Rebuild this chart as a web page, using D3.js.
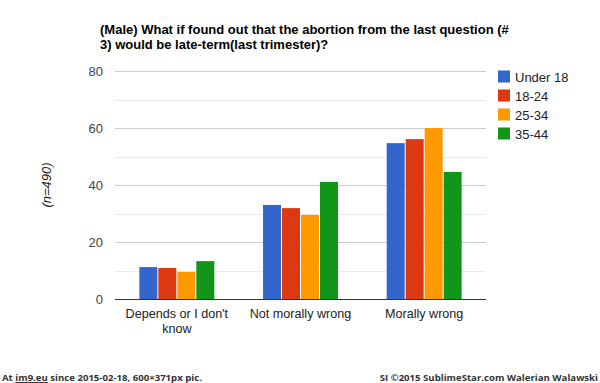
<!DOCTYPE html>
<html><head><meta charset="utf-8">
<script src="https://cdn.jsdelivr.net/npm/d3@7"></script>
<style>
html,body{margin:0;padding:0;background:#fff;}
svg{display:block;}
</style></head>
<body>
<script>
const categories = ["Depends or I don't know", "Not morally wrong", "Morally wrong"];
const categoryLines = [["Depends or I don't", "know"], ["Not morally wrong"], ["Morally wrong"]];
const seriesNames = ["Under 18", "18-24", "25-34", "35-44"];
const under18 = [11.3, 33.1, 54.8];
const age18to24 = [11.0, 32.0, 56.2];
const age25to34 = [9.6, 29.6, 60.1];
const age35to44 = [13.4, 41.2, 44.7];
const colors = ["#3366cc", "#dc3912", "#ff9900", "#109618"];
const majorTicks = [0, 20, 40, 60, 80];
const minorTicks = [10, 30, 50, 70];
const titleLines = ["(Male) What if found out that the abortion from the last question (#", "3) would be late-term(last trimester)?"];
const yTitle = "(n=490)";

const seriesValues = [under18, age18to24, age25to34, age35to44];

const W = 600, H = 383;
const svg = d3.select("body").append("svg").attr("width", W).attr("height", H);
const font = "Arial, 'Liberation Sans', sans-serif";

const plotL = 115, plotR = 486, plotT = 71.3, plotB = 299.3;
const y = d3.scaleLinear().domain([0, 80]).range([plotB, plotT]);
const x0 = d3.scaleBand().domain(categories).range([plotL, plotR]).paddingInner(0.394).paddingOuter(0.197);
const x1 = d3.scaleBand().domain(seriesNames).range([0, x0.bandwidth()]).paddingInner(0.053);

// gridlines
svg.append("g").selectAll("line").data(minorTicks).join("line")
  .attr("x1", plotL).attr("x2", plotR)
  .attr("y1", d => Math.round(y(d)) + 0.5).attr("y2", d => Math.round(y(d)) + 0.5)
  .attr("stroke", "#ebebeb").attr("stroke-width", 1);
svg.append("g").selectAll("line").data(majorTicks.filter(d => d > 0)).join("line")
  .attr("x1", plotL).attr("x2", plotR)
  .attr("y1", d => Math.round(y(d)) + 0.5).attr("y2", d => Math.round(y(d)) + 0.5)
  .attr("stroke", "#cccccc").attr("stroke-width", 1);

// y tick labels
svg.append("g").selectAll("text").data(majorTicks).join("text")
  .attr("x", 103).attr("y", d => y(d) + 4.5)
  .attr("text-anchor", "end").attr("font-family", font).attr("font-size", 13)
  .attr("fill", "#444").text(d => d);

// bars
const rows = categories.map((c, i) => ({ cat: c, vals: seriesNames.map((s, j) => ({ s, j, v: seriesValues[j][i] })) }));
const groups = svg.append("g").selectAll("g").data(rows).join("g")
  .attr("transform", d => `translate(${x0(d.cat)},0)`);
groups.selectAll("rect").data(d => d.vals).join("rect")
  .attr("x", d => x1(d.s)).attr("width", x1.bandwidth())
  .attr("y", d => y(d.v)).attr("height", d => y(0) - y(d.v))
  .attr("fill", d => colors[d.j]);

// baseline
svg.append("line").attr("x1", plotL).attr("x2", plotR)
  .attr("y1", Math.round(y(0)) + 0.5).attr("y2", Math.round(y(0)) + 0.5)
  .attr("stroke", "#333").attr("stroke-width", 1);

// x labels
categories.forEach((c, i) => {
  const t = svg.append("text").attr("text-anchor", "middle").attr("font-family", font)
    .attr("font-size", 12.6).attr("fill", "#222");
  categoryLines[i].forEach((ln, k) => {
    t.append("tspan").attr("x", x0(c) + x0.bandwidth() / 2).attr("y", 318 + k * 15).text(ln);
  });
});

// y title
svg.append("text").attr("transform", `translate(51,185) rotate(-90)`)
  .attr("text-anchor", "middle").attr("font-family", font).attr("font-size", 13)
  .attr("font-style", "italic").attr("fill", "#222").text(yTitle);

// title
const tt = svg.append("text").attr("font-family", font).attr("font-size", 13)
  .attr("font-weight", "bold").attr("fill", "#000");
titleLines.forEach((ln, k) => {
  tt.append("tspan").attr("x", 100).attr("y", 34 + k * 15).text(ln);
});

// legend
const lg = svg.append("g").selectAll("g").data(seriesNames).join("g")
  .attr("transform", (d, i) => `translate(498,${70.5 + i * 19})`);
lg.append("rect").attr("width", 12).attr("height", 12).attr("fill", (d, i) => colors[i]);
lg.append("text").attr("x", 17).attr("y", 11).attr("font-family", font).attr("font-size", 13)
  .attr("fill", "#222").text(d => d);

// footer
const ff = "'Open Sans', 'DejaVu Sans', sans-serif";
const fl = svg.append("text").attr("x", 2).attr("y", 381).attr("font-family", ff)
  .attr("font-weight", "bold").attr("font-size", 9.6).attr("fill", "#333");
fl.append("tspan").text("At ");
fl.append("tspan").attr("text-decoration", "underline").text("im9.eu");
fl.append("tspan").text(" since 2015-02-18, 600\u00d7371px pic.");
svg.append("text").attr("x", 598).attr("y", 381).attr("text-anchor", "end").attr("font-family", ff)
  .attr("font-weight", "bold").attr("font-size", 9.6).attr("fill", "#333")
  .text("SI \u00a92015 SublimeStar.com Walerian Walawski");
</script>
</body></html>
